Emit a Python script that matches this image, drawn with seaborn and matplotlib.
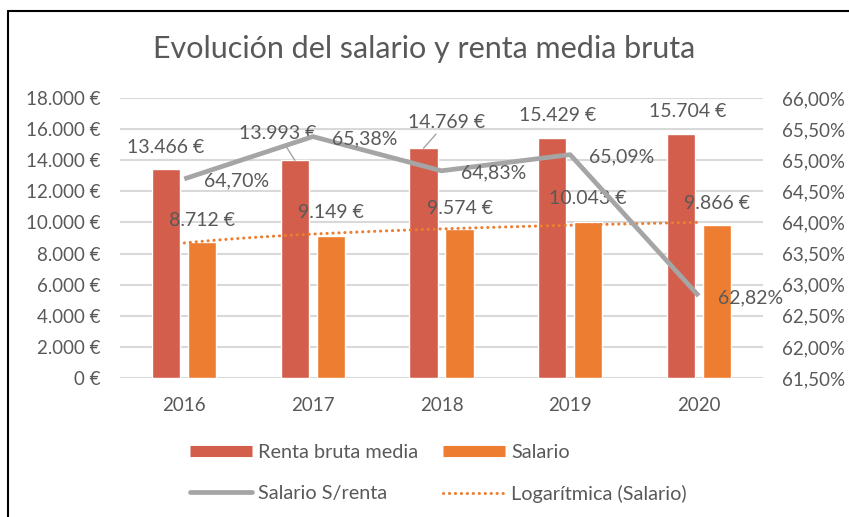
import matplotlib
matplotlib.use("Agg")
import matplotlib.pyplot as plt
import numpy as np
import pandas as pd
import seaborn as sns
from matplotlib.lines import Line2D
from matplotlib.ticker import FixedLocator, FuncFormatter

YEARS = ["2016", "2017", "2018", "2019", "2020"]
RENTA = [13466, 13993, 14769, 15429, 15704]
SALARIO = [8712, 9149, 9574, 10043, 9866]
RATIO = [64.70, 65.38, 64.83, 65.09, 62.82]

COLORS = {
    "renta": "#D35E4C",
    "salario": "#ED7D31",
    "ratio": "#A5A5A5",
    "text": "#595959",
    "grid": "#D9D9D9",
}

sns.set_theme(style="white")
plt.rcParams["font.family"] = ["Lato", "DejaVu Sans"]

PX = 0.72  # points per pixel at dpi 100
DOTS = (0, (0.05, 1.9))


def thousands(v, _=None):
    return f"{v:,.0f} €".replace(",", ".")


def percent(v, _=None):
    return f"{v:.2f}%".replace(".", ",")


df = pd.DataFrame(
    {
        "year": YEARS * 2,
        "value": RENTA + SALARIO,
        "serie": ["Renta bruta media"] * len(YEARS) + ["Salario"] * len(YEARS),
    }
)

fig = plt.figure(figsize=(8.49, 5.17), dpi=100)
ax = fig.add_axes([120 / 849, 1 - 378 / 517, 643 / 849, 280 / 517])

sns.barplot(
    data=df, x="year", y="value", hue="serie", ax=ax,
    palette=[COLORS["renta"], COLORS["salario"]],
    width=0.56, gap=0.22, saturation=1, legend=False,
)
ax.set_ylim(0, 18000)
ax.set_xlim(-0.5, len(YEARS) - 0.5)
ax.yaxis.set_major_locator(FixedLocator(np.arange(0, 18001, 2000)))
ax.yaxis.set_major_formatter(FuncFormatter(thousands))
ax.grid(axis="y", color=COLORS["grid"], linewidth=1.5)
ax.set_axisbelow(True)
for s in ax.spines.values():
    s.set_visible(False)
ax.set_xlabel("")
ax.set_ylabel("")
ax.tick_params(axis="y", length=0, pad=14, labelsize=13.5, labelcolor=COLORS["text"])
ax.tick_params(axis="x", length=0, pad=14, labelsize=13.5, labelcolor=COLORS["text"])

# logarithmic trendline for Salario
xs = np.arange(1, len(SALARIO) + 1)
a, b = np.polyfit(np.log(xs), SALARIO, 1)
xf = np.linspace(1, len(SALARIO), 100)
ax.plot(xf - 1, a * np.log(xf) + b, color=COLORS["salario"], linestyle=DOTS,
        linewidth=2.2, dash_capstyle="round", zorder=3)

# ratio line on the secondary axis
ax2 = ax.twinx()
sns.lineplot(x=np.arange(len(YEARS)), y=RATIO, ax=ax2, color=COLORS["ratio"],
             linewidth=3.4, solid_capstyle="butt", zorder=4)
ax2.set_ylim(61.5, 66.0)
ax2.yaxis.set_major_locator(FixedLocator(np.arange(61.5, 66.01, 0.5)))
ax2.yaxis.set_major_formatter(FuncFormatter(percent))
ax2.tick_params(axis="y", length=0, pad=14, labelsize=13.5, labelcolor=COLORS["text"])
for s in ax2.spines.values():
    s.set_visible(False)
ax2.grid(False)

# data labels
renta_off = [(-1, 21), (-17, 27), (23, 26), (6, 22), (7, 22)]
salario_off = [(0, 22), (0, 23), (0, 21), (0, 23), (0, 21)]
leader = [False, True, True, False, False]
for i in range(len(YEARS)):
    dx, dy = renta_off[i]
    ax.annotate(
        thousands(RENTA[i]), (i - 0.14, RENTA[i]), xytext=(dx * PX, dy * PX),
        textcoords="offset points", ha="center", va="center", fontsize=14,
        color=COLORS["text"],
        arrowprops=dict(arrowstyle="-", color=COLORS["ratio"], lw=1, shrinkA=0, shrinkB=0) if leader[i] else None,
    )
    dx, dy = salario_off[i]
    ax.annotate(
        thousands(SALARIO[i]), (i + 0.14, SALARIO[i]), xytext=(dx * PX, dy * PX),
        textcoords="offset points", ha="center", va="center", fontsize=14,
        color=COLORS["text"],
    )
    ax2.annotate(
        percent(RATIO[i]), (i, RATIO[i]), xytext=(52 * PX, -2 * PX),
        textcoords="offset points", ha="center", va="center", fontsize=14,
        color=COLORS["text"], zorder=5,
    )

fig.text(0.5, 1 - 49 / 517, "Evolución del salario y renta media bruta", ha="center",
         va="center", fontsize=22, color=COLORS["text"])

handles = [
    Line2D([], [], color=COLORS["renta"], linewidth=8, solid_capstyle="butt"),
    Line2D([], [], color=COLORS["ratio"], linewidth=3.4, solid_capstyle="round"),
    Line2D([], [], color=COLORS["salario"], linewidth=8, solid_capstyle="butt"),
    Line2D([], [], color=COLORS["salario"], linewidth=2.2, linestyle=DOTS, dash_capstyle="round"),
]
labels = ["Renta bruta media", "Salario S/renta", "Salario", "Logarítmica (Salario)"]
leg = fig.legend(
    handles, labels, ncol=2, loc="upper left", bbox_to_anchor=(190 / 849, 1 - 444 / 517),
    frameon=False, fontsize=14.3, handlelength=3.1, handletextpad=0.3,
    columnspacing=1.3, labelspacing=1.2, borderpad=0, borderaxespad=0,
)
for t in leg.get_texts():
    t.set_color(COLORS["text"])

# chart border (top and left edges visible)
fig.add_artist(Line2D([8 / 849, 1], [1 - 10.5 / 517] * 2, transform=fig.transFigure,
                      color="black", linewidth=1.5))
fig.add_artist(Line2D([8 / 849] * 2, [0, 1 - 10.5 / 517], transform=fig.transFigure,
                      color="black", linewidth=1.5))

fig.savefig("out.png", dpi=100, facecolor="white")
